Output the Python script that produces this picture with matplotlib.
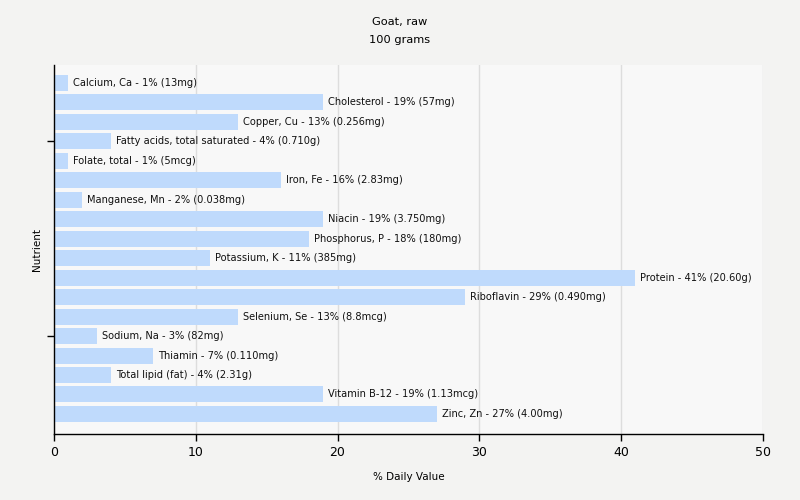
import matplotlib
matplotlib.use("Agg")
import matplotlib.pyplot as plt

nutrients = [
    "Calcium, Ca", "Cholesterol", "Copper, Cu", "Fatty acids, total saturated",
    "Folate, total", "Iron, Fe", "Manganese, Mn", "Niacin", "Phosphorus, P",
    "Potassium, K", "Protein", "Riboflavin", "Selenium, Se", "Sodium, Na",
    "Thiamin", "Total lipid (fat)", "Vitamin B-12", "Zinc, Zn",
]
values = [1, 19, 13, 4, 1, 16, 2, 19, 18, 11, 41, 29, 13, 3, 7, 4, 19, 27]
amounts = ["13mg", "57mg", "0.256mg", "0.710g", "5mcg", "2.83mg", "0.038mg",
           "3.750mg", "180mg", "385mg", "20.60g", "0.490mg", "8.8mcg", "82mg",
           "0.110mg", "2.31g", "1.13mcg", "4.00mg"]
xticks = [0, 10, 20, 30, 40, 50]

fig = plt.figure(figsize=(8, 5), dpi=100)
fig.patch.set_facecolor("#f3f3f2")
ax = fig.add_axes([0.0675, 0.132, 0.886, 0.738])
ax.set_facecolor("#f8f8f8")

ypos = list(range(len(nutrients)))
ax.barh(ypos, values, height=0.82, color="#bfdafc", zorder=2)
for y, v, n, a in zip(ypos, values, nutrients, amounts):
    ax.annotate(f"{n} - {v}% ({a})", xy=(v, y), xytext=(3.6, 0),
                textcoords="offset points", va="center", ha="left",
                fontsize=7.1, color="#111111", zorder=3)

ax.set_xlim(0, 50)
ax.set_ylim(17 + 1.03, -0.92)
ax.set_xticks(xticks)
ax.set_xticklabels([str(t) for t in xticks], fontsize=9)
ax.set_yticks([3, 13])
ax.set_yticklabels([])
ax.tick_params(axis="both", direction="out", length=5, width=1, color="black")
ax.grid(axis="x", color="#dddddd", linewidth=1, zorder=1)
for s in ["top", "right"]:
    ax.spines[s].set_visible(False)
for s in ["left", "bottom"]:
    ax.spines[s].set_color("black")
    ax.spines[s].set_linewidth(1)

ax.set_xlabel("% Daily Value", fontsize=7.5)
ax.xaxis.set_label_coords(0.5, -(472 - 434) / 369)
ax.set_ylabel("Nutrient", fontsize=7.5)
ax.yaxis.set_label_coords(-(54 - 42) / 709, 0.5)
fig.text(0.5, 1 - 22 / 500, "Goat, raw", ha="center", va="center", fontsize=8.2)
fig.text(0.5, 1 - 40 / 500, "100 grams", ha="center", va="center", fontsize=8.2)

fig.savefig("out.png", dpi=100, facecolor=fig.get_facecolor())
